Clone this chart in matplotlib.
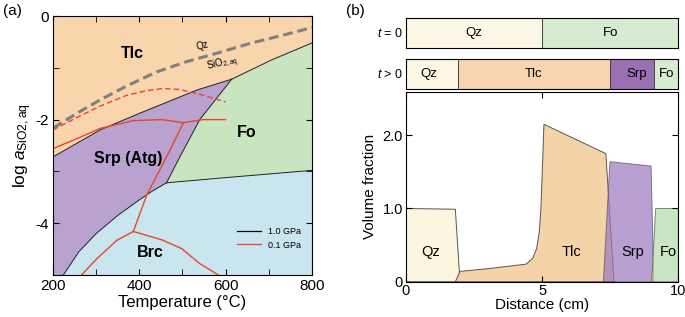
import numpy as np
import matplotlib
matplotlib.use('Agg')
from matplotlib import pyplot as plt
from matplotlib.lines import Line2D

plt.rcParams['font.family'] = ['Liberation Sans', 'DejaVu Sans']
plt.rcParams['mathtext.fontset'] = 'custom'
plt.rcParams['mathtext.rm'] = 'Liberation Sans'
plt.rcParams['mathtext.it'] = 'Liberation Sans:italic'
plt.rcParams['axes.unicode_minus'] = False

# ---- panel (a): phase boundaries, T (degC) vs log a_SiO2,aq ----
# 1.0 GPa boundaries (black)
tlc_srp_T = [200, 309, 400, 533, 614]
tlc_srp_a = [-2.72, -2.2, -1.88, -1.43, -1.22]
tlc_fo_T = [614, 706, 800]
tlc_fo_a = [-1.22, -0.85, -0.52]
srp_fo_T = [614, 540, 494, 463]
srp_fo_a = [-1.22, -2.0, -2.72, -3.22]
fo_brc_T = [463, 600, 800]
fo_brc_a = [-3.22, -3.12, -2.98]
srp_brc_T = [463, 430, 400, 350, 300, 260, 224]
srp_brc_a = [-3.22, -3.38, -3.55, -3.85, -4.2, -4.55, -5.0]

# quartz saturation (grey dashed)
qz_T = [201, 255, 309, 371, 440, 510, 579, 656, 733, 801]
qz_a = [-2.16, -1.88, -1.62, -1.35, -1.08, -0.88, -0.72, -0.53, -0.37, -0.22]

# 0.1 GPa boundaries (red)
r_qz_T = [200, 255, 309, 371, 417, 455, 494, 540, 600]
r_qz_a = [-2.2, -1.96, -1.74, -1.53, -1.44, -1.40, -1.42, -1.51, -1.66]
r_tlc_T = [200, 255, 309, 386, 452, 502, 548, 600]
r_tlc_a = [-2.56, -2.37, -2.17, -2.02, -2.0, -2.06, -2.0, -2.0]
r_srp_fo_T = [502, 471, 417, 386]
r_srp_fo_a = [-2.06, -2.59, -3.46, -4.16]
r_srp_brc_T = [386, 348, 301, 266]
r_srp_brc_a = [-4.16, -4.33, -4.69, -5.0]
r_fo_brc_T = [386, 452, 498, 540, 583]
r_fo_brc_a = [-4.16, -4.32, -4.49, -4.78, -5.0]

# ---- panel (b): volume fraction profiles vs distance (cm) ----
qz_x = [0, 0, 1.82, 1.99]
qz_y = [0, 1.0, 0.99, 0]
tlc_x = [1.82, 1.99, 3.07, 4.42, 4.66, 4.8, 4.9, 4.96, 5.07, 7.34, 7.64]
tlc_y = [0, 0.14, 0.18, 0.24, 0.32, 0.45, 0.68, 1.0, 2.15, 1.75, 0]
srp_x = [7.25, 7.49, 9.0, 9.1]
srp_y = [0, 1.64, 1.58, 0]
fo_x = [9.02, 9.17, 10, 10]
fo_y = [0, 1.0, 1.0, 0]

t0_names = ['Qz', 'Fo']
t0_edges = [0, 5, 10]
t1_names = ['Qz', 'Tlc', 'Srp', 'Fo']
t1_edges = [0, 1.9, 7.5, 9.1, 10]

c_tlc = '#f9d5ae'
c_srp = '#b9a2cf'
c_fo = '#c8e5c0'
c_brc = '#c9e5ef'
c_red = '#e8452c'
bar_cols = {'Qz': '#fcf7e4', 'Fo': '#d6ecd1', 'Tlc': '#f6d5b0', 'Srp': '#9b70b2'}

fig = plt.figure(figsize=(6.85, 3.17), dpi=100)

# %% panel (a)
ax = fig.add_axes([0.0774, 0.1325, 0.378, 0.817])
ax.set_xlim(200, 800)
ax.set_ylim(-5, 0)
ax.set_facecolor(c_brc)

tlc_poly_T = [200, 800] + tlc_fo_T[::-1] + tlc_srp_T[::-1]
tlc_poly_a = [0, 0] + tlc_fo_a[::-1] + tlc_srp_a[::-1]
ax.fill(tlc_poly_T, tlc_poly_a, color=c_tlc, lw=0)
fo_poly_T = tlc_fo_T + fo_brc_T[::-1] + srp_fo_T[::-1]
fo_poly_a = tlc_fo_a + fo_brc_a[::-1] + srp_fo_a[::-1]
ax.fill(fo_poly_T, fo_poly_a, color=c_fo, lw=0)
srp_poly_T = tlc_srp_T + srp_fo_T + srp_brc_T + [200]
srp_poly_a = tlc_srp_a + srp_fo_a + srp_brc_a + [-5]
ax.fill(srp_poly_T, srp_poly_a, color=c_srp, lw=0)

for T, a in [(tlc_srp_T, tlc_srp_a), (tlc_fo_T, tlc_fo_a), (srp_fo_T, srp_fo_a),
             (fo_brc_T, fo_brc_a), (srp_brc_T, srp_brc_a)]:
    ax.plot(T, a, color='#222222', lw=0.7)

ax.plot(qz_T, qz_a, color='#808080', lw=2.2, dashes=(3.2, 1.6))
ax.plot(r_qz_T, r_qz_a, color=c_red, lw=1.0, dashes=(4, 2.2))
for T, a in [(r_tlc_T, r_tlc_a), (r_srp_fo_T, r_srp_fo_a),
             (r_srp_brc_T, r_srp_brc_a), (r_fo_brc_T, r_fo_brc_a)]:
    ax.plot(T, a, color=c_red, lw=1.0)

ax.text(385, -0.72, 'Tlc', fontsize=11.5, fontweight='bold', ha='center', va='center')
ax.text(649, -2.24, 'Fo', fontsize=11.5, fontweight='bold', ha='center', va='center')
ax.text(375, -2.75, 'Srp (Atg)', fontsize=11.5, fontweight='bold', ha='center', va='center')
ax.text(425, -4.56, 'Brc', fontsize=11.5, fontweight='bold', ha='center', va='center')
ax.text(545, -0.58, 'Qz', fontsize=7, ha='center', va='center', rotation=14)
ax.text(592, -0.92, r'SiO$_{\mathrm{2,aq}}$', fontsize=7, ha='center', va='center', rotation=14)

handles = [Line2D([], [], color='black', lw=0.9), Line2D([], [], color=c_red, lw=0.9)]
leg = ax.legend(handles, ['1.0 GPa', '0.1 GPa'], loc='lower left',
                bbox_to_anchor=(0.691, 0.077, 0.29, 0.148), mode='expand',
                fontsize=6.5, frameon=True, fancybox=False, framealpha=0,
                handlelength=2.6, borderaxespad=0, borderpad=0.6, labelspacing=0.5)
leg.get_frame().set_edgecolor('#888888')
leg.get_frame().set_linewidth(0.6)

ax.set_xticks([200, 400, 600, 800])
ax.set_xticks([300, 500, 700], minor=True)
ax.set_yticks([0, -2, -4])
ax.set_yticks([-1, -3, -5], minor=True)
ax.tick_params(which='both', direction='in', top=True, right=True, labelsize=11, pad=3)
ax.tick_params(which='major', length=4)
ax.tick_params(which='minor', length=4)
ax.set_xlabel('Temperature (°C)', fontsize=12, labelpad=1)
ax.set_ylabel(r'log $a_{\mathrm{SiO2,aq}}$', fontsize=12.5, labelpad=1)
for s in ax.spines.values():
    s.set_linewidth(0.8)

fig.text(0.004, 0.965, '(a)', fontsize=11, va='center')
fig.text(0.505, 0.965, '(b)', fontsize=11, va='center')

# %% panel (b) bars
for bottom, names, edges, lab in [(0.8476, t0_names, t0_edges, r'$t$ = 0'),
                                  (0.7183, t1_names, t1_edges, r'$t$ > 0')]:
    b = fig.add_axes([0.5923, bottom, 0.398, 0.0956])
    lefts = np.array(edges[:-1])
    widths = np.diff(edges)
    b.barh(0, widths, left=lefts, height=1, color=[bar_cols[n] for n in names],
           edgecolor='#444444', lw=0.7)
    for n, l, w in zip(names, lefts, widths):
        if n == 'Qz' and len(names) > 2:
            b.text(l + 0.45 * w, 0, n, fontsize=9.5, ha='center', va='center')
        elif n == 'Srp':
            b.text(l + 0.6 * w, 0, n, fontsize=9.5, ha='center', va='center')
        else:
            b.text(l + w / 2, 0, n, fontsize=9.5, ha='center', va='center')
    b.set_xlim(0, 10)
    b.set_ylim(-0.5, 0.5)
    b.set_xticks([])
    b.set_yticks([])
    b.text(-0.1, 0, lab, fontsize=9, ha='right', va='center')
    for s in b.spines.values():
        s.set_linewidth(0.8)

# %% panel (b) profiles
bx = fig.add_axes([0.5923, 0.1114, 0.398, 0.598])
bx.set_xlim(0, 10)
bx.set_ylim(0, 2.59)
bx.fill(qz_x, qz_y, facecolor='#fcf5df', edgecolor='#555555', lw=0.7)
bx.fill(tlc_x, tlc_y, facecolor='#f5d3a9', edgecolor='#555555', lw=0.7)
bx.fill(srp_x, srp_y, facecolor='#9b78c0', alpha=0.7, edgecolor='#555555', lw=0.7)
bx.fill(fo_x, fo_y, facecolor='#b4dcad', alpha=0.7, edgecolor='#555555', lw=0.7)
bx.text(0.92, 0.4, 'Qz', fontsize=10.5, ha='center', va='center')
bx.text(6.07, 0.4, 'Tlc', fontsize=10.5, ha='center', va='center')
bx.text(8.32, 0.4, 'Srp', fontsize=10.5, ha='center', va='center')
bx.text(9.63, 0.4, 'Fo', fontsize=10.5, ha='center', va='center')
bx.set_xticks([0, 5, 10])
bx.set_xticklabels(['0', '5', '10'])
bx.set_yticks([0, 1, 2])
bx.set_yticklabels(['0', '1.0', '2.0'])
bx.tick_params(direction='in', top=True, right=True, length=4, labelsize=10.5, pad=2)
bx.set_xlabel('Distance (cm)', fontsize=11, labelpad=0)
bx.set_ylabel('Volume fraction', fontsize=11, labelpad=4)
for s in bx.spines.values():
    s.set_linewidth(0.8)

fig.savefig('out.png', dpi=100)
